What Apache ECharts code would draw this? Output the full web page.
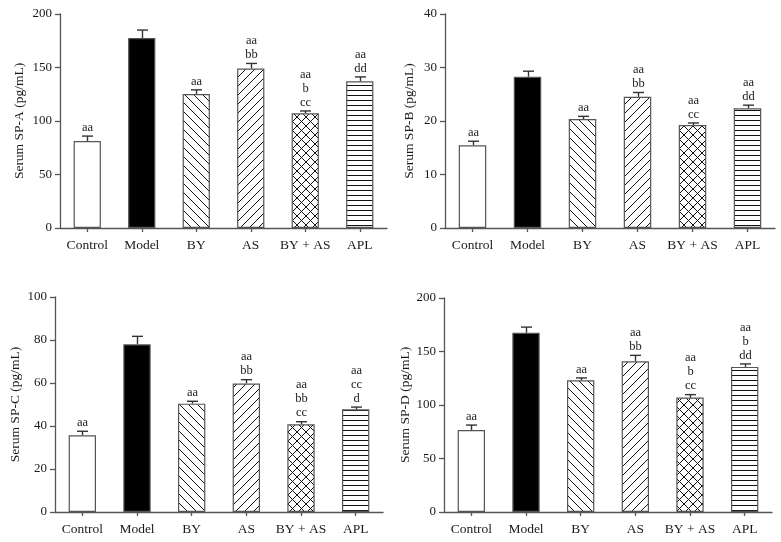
<!DOCTYPE html>
<html><head><meta charset="utf-8">
<script src="https://cdn.jsdelivr.net/npm/echarts@6/dist/echarts.min.js"></script>
<style>html,body{margin:0;padding:0;background:#fff}#c{width:781px;height:542px}</style>
</head><body><div id="c"></div>
<script>
const categories = ['Control', 'Model', 'BY', 'AS', 'BY + AS', 'APL'];

const spA = [81.3, 177.5, 125.3, 149.1, 107.2, 137.2];
const spA_err = [4.6, 7.5, 3.8, 4.7, 2.2, 4.0];
const spA_labels = ['aa', '', 'aa', 'aa\nbb', 'aa\nb\ncc', 'aa\ndd'];

const spB = [15.47, 28.26, 20.37, 24.53, 19.25, 22.36];
const spB_err = [0.75, 1.05, 0.5, 0.8, 0.38, 0.6];
const spB_labels = ['aa', '', 'aa', 'aa\nbb', 'aa\ncc', 'aa\ndd'];

const spC = [35.7, 78.0, 50.4, 59.8, 40.8, 47.75];
const spC_err = [1.85, 3.7, 1.1, 1.75, 1.2, 1.05];
const spC_labels = ['aa', '', 'aa', 'aa\nbb', 'aa\nbb\ncc', 'aa\ncc\nd'];

const spD = [76.6, 167.5, 123.1, 140.8, 106.9, 135.6];
const spD_err = [4.65, 5.3, 2.2, 5.6, 2.8, 2.8];
const spD_labels = ['aa', '', 'aa', 'aa\nbb', 'aa\nb\ncc', 'aa\nb\ndd'];

const yTitles = ['Serum SP-A (pg/mL)', 'Serum SP-B (pg/mL)', 'Serum SP-C (pg/mL)', 'Serum SP-D (pg/mL)'];
const yMax = [200, 40, 100, 200];
const yStep = [50, 10, 20, 50];

const FONT = '"Liberation Serif", "DejaVu Serif", serif';

function tile(kind) {
  const s = kind === 'h' ? 5 : 9;
  const c = document.createElement('canvas');
  c.width = s; c.height = s;
  const g = c.getContext('2d');
  g.fillStyle = '#fff'; g.fillRect(0, 0, s, s);
  g.strokeStyle = '#111'; g.lineWidth = 1;
  g.beginPath();
  if (kind === 'h') {
    g.moveTo(0, 0.5); g.lineTo(s, 0.5);
  } else {
    for (let k = -1; k <= 1; k++) {
      if (kind === 'b' || kind === 'x') { g.moveTo(k * s - 1, -1); g.lineTo(k * s + s + 1, s + 1); }
      if (kind === 'f' || kind === 'x') { g.moveTo(k * s - 1, s + 1); g.lineTo(k * s + s + 1, -1); }
    }
  }
  g.stroke();
  return { image: c, repeat: 'repeat' };
}
const fills = ['#ffffff', '#000000', tile('b'), tile('f'), tile('x'), tile('h')];

const panels = [
  { vals: spA, err: spA_err, lab: spA_labels, grid: { left: 60, top: 14, width: 327, height: 214 }, gap: 34 },
  { vals: spB, err: spB_err, lab: spB_labels, grid: { left: 445, top: 14, width: 330, height: 214 }, gap: 29 },
  { vals: spC, err: spC_err, lab: spC_labels, grid: { left: 55, top: 297, width: 328, height: 215 }, gap: 33 },
  { vals: spD, err: spD_err, lab: spD_labels, grid: { left: 444, top: 298, width: 328, height: 214 }, gap: 32 }
];

const grid = [], xAxis = [], yAxis = [], series = [];
const axisLine = { show: true, lineStyle: { color: '#555', width: 1.3 } };
panels.forEach((p, i) => {
  grid.push(p.grid);
  xAxis.push({
    type: 'category', gridIndex: i, data: categories,
    axisLine: axisLine,
    axisTick: { show: true, alignWithLabel: true, length: 4, lineStyle: { color: '#555', width: 1.3 } },
    axisLabel: { interval: 0, color: '#1a1a1a', fontFamily: FONT, fontSize: 13.5, margin: 10 }
  });
  yAxis.push({
    type: 'value', gridIndex: i, min: 0, max: yMax[i], interval: yStep[i],
    name: yTitles[i], nameLocation: 'middle', nameGap: p.gap,
    nameTextStyle: { color: '#1a1a1a', fontFamily: FONT, fontSize: 13.5 },
    axisLine: axisLine,
    axisTick: { show: true, length: 5, lineStyle: { color: '#555', width: 1.3 } },
    splitLine: { show: false },
    axisLabel: { color: '#1a1a1a', fontFamily: FONT, fontSize: 13, margin: 8 }
  });
  series.push({
    type: 'bar', xAxisIndex: i, yAxisIndex: i, barWidth: '50%',
    data: p.vals.map((v, j) => ({ value: v, itemStyle: { color: fills[j], borderColor: '#555', borderWidth: 1.2 } })),
    silent: true, animation: false
  });
  series.push({
    type: 'custom', xAxisIndex: i, yAxisIndex: i, animation: false, silent: true,
    data: p.vals.map((v, j) => [j, v, v + p.err[j]]),
    renderItem: (params, api) => {
      const top = api.coord([api.value(0), api.value(1)]);
      const et = api.coord([api.value(0), api.value(2)]);
      const x = Math.round(top[0]) + 0.5;
      const st = { stroke: '#333', lineWidth: 1.4 };
      const children = [
        { type: 'line', shape: { x1: x, y1: top[1], x2: x, y2: et[1] }, style: st },
        { type: 'line', shape: { x1: x - 5.5, y1: et[1], x2: x + 5.5, y2: et[1] }, style: st }
      ];
      const t = p.lab[params.dataIndex];
      if (t) {
        children.push({
          type: 'text',
          style: { text: t, x: x, y: et[1] - 1.5, align: 'center', verticalAlign: 'bottom',
                   font: '12.5px ' + FONT, lineHeight: 14, fill: '#1a1a1a' }
        });
      }
      return { type: 'group', children: children };
    }
  });
});

const chart = echarts.init(document.getElementById('c'), null, { renderer: 'canvas' });
chart.setOption({ animation: false, backgroundColor: '#fff', grid, xAxis, yAxis, series });
</script>
</body></html>
